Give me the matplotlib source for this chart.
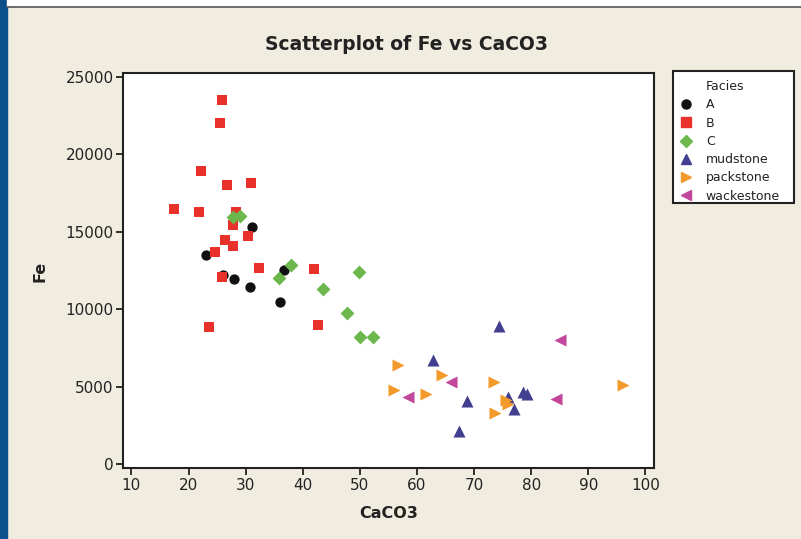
import matplotlib
matplotlib.use("Agg")
import matplotlib.pyplot as plt
from matplotlib.lines import Line2D
from matplotlib.patches import Rectangle

# data

A_x = [31.2, 23.1, 26.1, 28.0, 30.7, 36.7, 36.1]
A_y = [15300, 13500, 12200, 11950, 11450, 12550, 10450]

B_x = [25.8, 25.5, 22.1, 26.7, 30.9, 17.5, 21.8, 28.4, 27.7, 30.4, 26.3, 27.7, 24.6, 32.4, 42.0, 25.8, 23.5, 42.7]
B_y = [23500, 22000, 18900, 18000, 18150, 16450, 16250, 16300, 15450, 14750, 14450, 14100, 13700, 12650, 12600, 12050, 8850, 8950]

C_x = [27.8, 29.0, 38.0, 35.8, 43.6, 49.8, 47.8, 50.0, 52.3]
C_y = [15950, 16000, 12850, 12000, 11300, 12400, 9750, 8200, 8200]

mud_x = [74.3, 62.8, 68.7, 67.4, 78.6, 79.2, 76.0, 76.9]
mud_y = [8900, 6700, 4100, 2150, 4650, 4500, 4350, 3550]

pack_x = [56.6, 55.9, 61.5, 64.4, 73.5, 73.6, 75.5, 76.0, 96.0]
pack_y = [6400, 4750, 4500, 5750, 5300, 3300, 4150, 3900, 5100]

wack_x = [85.1, 66.0, 58.4, 84.3]
wack_y = [8000, 5300, 4300, 4200]

x_ticks = [10, 20, 30, 40, 50, 60, 70, 80, 90, 100]
y_ticks = [0, 5000, 10000, 15000, 20000, 25000]

groups = [
    ("A", A_x, A_y, "o", "#111111", 55),
    ("B", B_x, B_y, "s", "#e8312b", 55),
    ("C", C_x, C_y, "D", "#6cb84c", 50),
    ("mudstone", mud_x, mud_y, "^", "#423f90", 75),
    ("packstone", pack_x, pack_y, ">", "#f39a2c", 75),
    ("wackestone", wack_x, wack_y, "<", "#c2479b", 75),
]

bg = "#f1ece0"
ink = "#222222"

W, H = 801, 539
fig = plt.figure(figsize=(W / 100, H / 100), dpi=100, facecolor=bg)

# page decoration: blue strip on the left, white strip on top
fig.patches.append(Rectangle((0, 0), 7 / W, 1, transform=fig.transFigure, color="#0b4f8b", zorder=0))
fig.patches.append(Rectangle((7 / W, 1 - 6 / H), 1, 6 / H, transform=fig.transFigure, color="white", zorder=0))
fig.add_artist(Line2D([7 / W, 1], [1 - 6.5 / H, 1 - 6.5 / H], transform=fig.transFigure, color="#555555", lw=1.2))

ax = fig.add_axes([123.3 / W, 1 - 468.3 / H, 530.7 / W, 395.6 / H])
ax.set_facecolor("white")

for name, xs, ys, mk, col, sz in groups:
    ax.scatter(xs, ys, marker=mk, color=col, s=sz, linewidths=0, label=name)

ax.set_xlim(8.58, 101.5)
ax.set_ylim(-280, 25280)
ax.set_xticks(x_ticks)
ax.set_yticks(y_ticks)
ax.tick_params(direction="out", length=5, width=1.3, colors=ink, labelsize=11, pad=2)
for sp in ax.spines.values():
    sp.set_color(ink)
    sp.set_linewidth(1.5)

fig.text(0.508, 1 - 45 / H, "Scatterplot of Fe vs CaCO3", ha="center", va="center",
         fontsize=13.5, fontweight="bold", color=ink)
fig.text(388.6 / W, 1 - 514 / H, "CaCO3", ha="center", va="center",
         fontsize=11.5, fontweight="bold", color=ink)
fig.text(40 / W, 1 - 271 / H, "Fe", ha="center", va="center", rotation=90,
         fontsize=11.5, fontweight="bold", color=ink)

# legend box drawn by hand, entries placed inside it
fig.patches.append(Rectangle((672.7 / W, 1 - 203 / H), 121.3 / W, 132 / H, transform=fig.transFigure,
                             facecolor="white", edgecolor=ink, lw=1.5, zorder=1))

# "Facies" as a blank first row so it lines up with the labels
handles = [Line2D([], [], linestyle="none", marker="")]
labels = ["Facies"]
for name, xs, ys, mk, col, sz in groups:
    handles.append(Line2D([], [], linestyle="none", marker=mk, color=col, markersize=7.5 if mk in "^<>" else 6.5))
    labels.append(name)

leg = fig.legend(handles, labels, loc="upper left", bbox_to_anchor=(674 / W, 1 - 74.5 / H),
                 frameon=False, fontsize=9, labelspacing=0.42, handlelength=1.0,
                 handletextpad=1.1, borderpad=0.45, borderaxespad=0)
leg.set_zorder(2)
for t in leg.get_texts():
    t.set_color(ink)

fig.savefig("out.png", dpi=100, facecolor=bg)
